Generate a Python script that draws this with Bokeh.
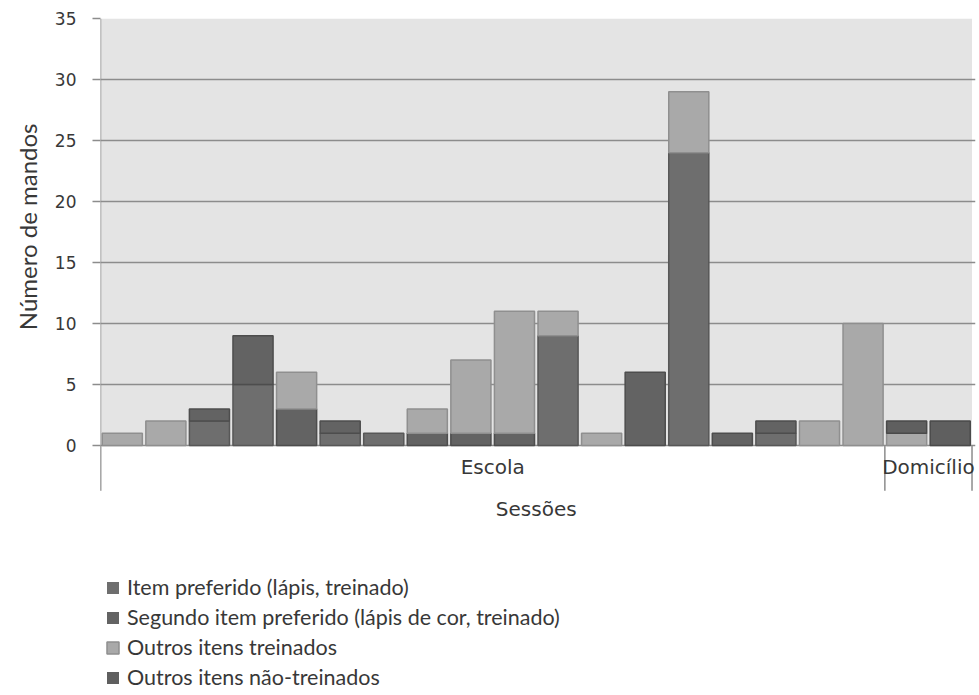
from bokeh.plotting import figure
from bokeh.models import (Range1d, FixedTicker, BoxAnnotation, LabelSet, Label,
                          ColumnDataSource, Title)
from bokeh.core.properties import value
from bokeh.embed import file_html
from bokeh.resources import INLINE

# ---- data ----
sessions = [str(i) for i in range(1, 21)]
item_preferido = [0, 0, 2, 5, 0, 1, 1, 0, 0, 0, 9, 0, 0, 24, 0, 1, 0, 0, 0, 0]
segundo_item = [0, 0, 1, 4, 3, 1, 0, 1, 1, 1, 0, 0, 6, 0, 1, 1, 0, 0, 0, 0]
outros_treinados = [1, 2, 0, 0, 3, 0, 0, 2, 6, 10, 2, 1, 0, 5, 0, 0, 2, 10, 1, 0]
outros_nao_treinados = [0, 0, 0, 0, 0, 0, 0, 0, 0, 0, 0, 0, 0, 0, 0, 0, 0, 0, 1, 2]

series_names = ["Item preferido (lápis, treinado)",
                "Segundo item preferido (lápis de cor, treinado)",
                "Outros itens treinados",
                "Outros itens não-treinados"]
group_names = ["Escola", "Domicílio"]
group_sizes = [18, 2]
y_ticks = [0, 5, 10, 15, 20, 25, 30, 35]
x_title = "Sessões"
y_title = "Número de mandos"

fills = ["#6e6e6e", "#636363", "#a9a9a9", "#5f5f5f"]
lines = ["#575757", "#4d4d4d", "#8f8f8f", "#4a4a4a"]
TXT = "#383838"
AX = "#8c8c8c"

n = len(sessions)
keys = ["s0", "s1", "s2", "s3"]
series = [item_preferido, segundo_item, outros_treinados, outros_nao_treinados]
data = {"x": [i + 0.5 for i in range(n)]}
for k, s in zip(keys, series):
    data[k] = s
    data[k + "_a"] = [1.0 if v > 0 else 0.0 for v in s]
src = ColumnDataSource(data)

YTOP = 35
YSEP = -3.7      # bottom of the category separators
YMIN = -20.08    # frame extends down to hold the legend
p = figure(frame_width=875, frame_height=672,
           x_range=Range1d(0, 20.08), y_range=Range1d(YMIN, YTOP),
           output_backend="svg", toolbar_location=None,
           min_border_left=100, min_border_top=18, min_border_right=2,
           min_border_bottom=2, outline_line_color=None,
           background_fill_color="white")

# gray plot area background (0..35)
p.add_layout(BoxAnnotation(bottom=0, top=YTOP, left=0, right=n,
                           fill_color="#e4e4e4", fill_alpha=1.0,
                           line_color=None, level="image"))

p.vbar_stack(keys, x="x", width=0.92, source=src,
             fill_color=fills, line_color=lines, line_width=1.5,
             line_alpha=[k + "_a" for k in keys],
             legend_label=series_names)

# grid
p.xgrid.visible = False
p.ygrid.ticker = FixedTicker(ticks=y_ticks)
p.ygrid.grid_line_color = AX
p.ygrid.grid_line_width = 1.5

# y axis (line drawn separately so it stops at the separators)
ya = p.yaxis[0]
ya.ticker = FixedTicker(ticks=y_ticks)
ya.axis_line_color = None
ya.major_tick_line_color = AX
ya.major_tick_line_width = 1.5
ya.major_tick_out = 8
ya.major_tick_in = 0
ya.minor_tick_line_color = None
ya.major_label_standoff = 16
ya.major_label_text_font = "DejaVu Sans"
ya.major_label_text_font_size = "17px"
ya.major_label_text_color = TXT

p.xaxis.visible = False

# y axis title (positioned from the top of the frame)
p.add_layout(Title(text=y_title, align="right", offset=105,
                   text_font="Lato", text_font_size="24px",
                   text_font_style="normal", text_color=TXT,
                   standoff=20), "left")

# axis line + group separators
bounds = [0]
for g in group_sizes:
    bounds.append(bounds[-1] + g)
p.segment(x0=[0], y0=[YTOP], x1=[0], y1=[YSEP], line_color=AX, line_width=1.5)
p.segment(x0=bounds, y0=[0] * len(bounds), x1=bounds, y1=[YSEP] * len(bounds),
          line_color=AX, line_width=1.5)
centers = [(bounds[i] + bounds[i + 1]) / 2 for i in range(len(group_sizes))]
gsrc = ColumnDataSource(dict(x=centers, y=[-1.75] * len(centers), t=group_names))
p.add_layout(LabelSet(x="x", y="y", text="t", source=gsrc,
                      text_align="center", text_baseline="middle",
                      text_font=value("DejaVu Sans"), text_font_size="20px",
                      text_color=TXT))

# x axis title
p.add_layout(Label(x=n / 2, y=-5.2, text=x_title, text_align="center",
                   text_baseline="middle", text_font="DejaVu Sans",
                   text_font_size="20px", text_color=TXT))

# legend at the bottom
lg = p.legend[0]
lg.location = (5, 0)
lg.orientation = "vertical"
lg.border_line_color = None
lg.background_fill_alpha = 0
lg.padding = 0
lg.margin = 0
lg.spacing = 4
lg.glyph_width = 15
lg.glyph_height = 15
lg.label_height = 24
lg.label_standoff = 7
lg.label_text_font = "Lato"
lg.label_text_font_size = "21.5px"
lg.label_text_color = TXT

open("out.html", "w").write(file_html(p, INLINE))
